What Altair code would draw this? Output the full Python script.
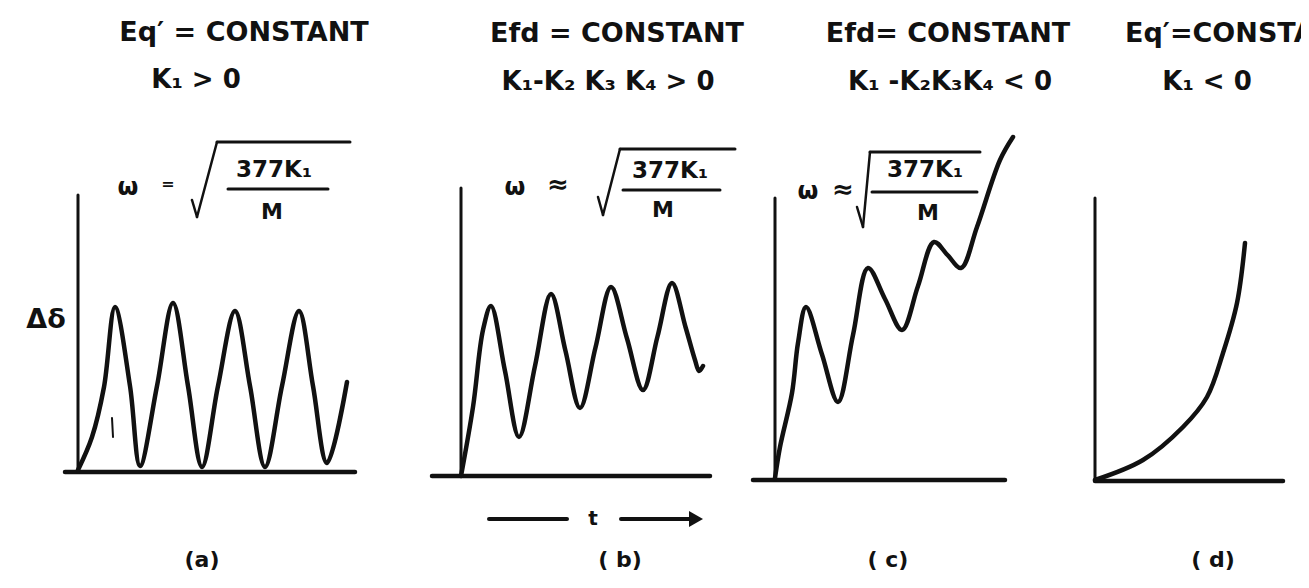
import altair as alt
import pandas as pd

INK = "#111111"
FONT = "DejaVu Sans"

# ---------------- data (t, delta-delta in arbitrary units) -------------
# (a) Eq' = constant, K1 > 0 : sustained oscillation
a_t = [0.0, 1.4, 2.6, 3.7, 5.2, 6.2, 7.9, 9.5, 11.0, 12.4, 14.0, 15.7, 17.2, 18.7, 20.4, 22.1, 23.5, 24.9, 26.9]
a_d = [0.2, 3.5, 8.5, 16.5, 8.6, 0.6, 8.6, 16.9, 8.6, 0.5, 8.6, 16.1, 8.6, 0.5, 8.6, 16.1, 8.6, 0.9, 9.0]
# (b) Efd = constant, K1-K2K3K4 > 0 : damped oscillation about a rising level
b_t = [0.0, 1.2, 2.2, 3.0, 4.4, 5.8, 7.4, 9.0, 10.45, 11.9, 13.45, 15.0, 16.6, 18.2, 19.65, 21.1, 22.45, 23.4, 23.8, 24.2]
b_d = [0.0, 6.9, 14.6, 17.0, 10.5, 3.9, 11.0, 18.2, 12.5, 6.8, 12.85, 18.9, 13.75, 8.6, 13.95, 19.3, 14.9, 11.6, 10.5, 11.0]
# (c) Efd = constant, K1-K2K3K4 < 0 : monotonic instability with oscillation
c_t = [0.0, 0.5, 1.7, 2.3, 3.1, 4.7, 6.3, 7.8, 9.3, 11.0, 12.7, 14.3, 15.9, 17.25, 18.6, 20.2, 22.5, 23.8]
c_d = [0.2, 3.3, 8.7, 13.7, 17.3, 12.55, 7.8, 14.5, 21.2, 18.1, 15.0, 19.4, 23.8, 22.5, 21.2, 25.3, 32.0, 34.3]
# (d) Eq' = constant, K1 < 0 : aperiodic instability
d_t = [0.0, 4.8, 8.8, 11.2, 12.8, 14.2, 15.0]
d_d = [0.1, 2.1, 5.4, 8.4, 12.8, 17.8, 23.8]

series_t = [a_t, b_t, c_t, d_t]
series_d = [a_d, b_d, c_d, d_d]

axis_top = [27.7, 28.8, 28.2, 28.3]      # height of the drawn vertical axis
base_from = [-1.3, -2.9, -2.2, 0.0]      # extent of the drawn time axis
base_to = [27.7, 24.9, 23.0, 18.8]

titles_1 = ["Eq′ = CONSTANT", "Efd = CONSTANT", "Efd= CONSTANT", "Eq′=CONSTANT"]
titles_2 = ["K₁ > 0", "K₁-K₂ K₃ K₄ > 0", "K₁ -K₂K₃K₄ < 0", "K₁ < 0"]
panel_labels = ["(a)", "( b)", "( c)", "( d)"]
omega_rel = ["=", "≈", "≈"]
numerator = "377K₁"
denominator = "M"
y_label = "Δδ"
t_label = "t"

# ---------------- layout (page pixels) ----------------
TOP = 8
H = 572
lefts = [8, 440, 750, 1060]
widths = [432, 310, 310, 241]
origins = [(78, 472), (461, 476), (775, 480), (1095, 481)]
UNIT = 10.0  # px per data unit

ONE = alt.Data(values=[{"k": 0}])


def seg(p, x1, y1, x2, y2, w=3.0):
    L = lefts[p]
    return alt.Chart(ONE).mark_rule(color=INK, strokeWidth=w, strokeCap="round").encode(
        x=alt.value(x1 - L), y=alt.value(y1 - TOP), x2=alt.value(x2 - L), y2=alt.value(y2 - TOP))


def txt(p, s, x, y, size, align="center", clip=False, weight="bold"):
    L = lefts[p]
    kw = dict(text=s, font=FONT, fontSize=size, fontWeight=weight, color=INK,
              align=align, baseline="middle")
    if clip:
        kw["clip"] = True
    return alt.Chart(ONE).mark_text(**kw).encode(x=alt.value(x - L), y=alt.value(y - TOP))


def panel(p):
    L, W = lefts[p], widths[p]
    ox, oy = origins[p]
    xs = alt.Scale(domain=[(L - ox) / UNIT, (L + W - ox) / UNIT], nice=False, zero=False)
    ys = alt.Scale(domain=[(oy - (TOP + H)) / UNIT, (oy - TOP) / UNIT], nice=False, zero=False)

    df = pd.DataFrame({"t": series_t[p], "d": series_d[p]})
    curve = alt.Chart(df).mark_line(color=INK, strokeWidth=4.5, interpolate="catmull-rom",
                                    strokeCap="round", strokeJoin="round").encode(
        x=alt.X("t:Q", scale=xs, axis=None), y=alt.Y("d:Q", scale=ys, axis=None), order="t:Q")

    axes_df = pd.DataFrame({"x1": [0.0, base_from[p]], "x2": [0.0, base_to[p]],
                            "y1": [0.0, 0.0], "y2": [axis_top[p], 0.0]})
    vaxis = alt.Chart(axes_df.iloc[[0]]).mark_rule(color=INK, strokeWidth=3, strokeCap="round").encode(
        x=alt.X("x1:Q", scale=xs, axis=None), x2="x2:Q",
        y=alt.Y("y1:Q", scale=ys, axis=None), y2="y2:Q")
    haxis = alt.Chart(axes_df.iloc[[1]]).mark_rule(color=INK, strokeWidth=4.5, strokeCap="round").encode(
        x=alt.X("x1:Q", scale=xs, axis=None), x2="x2:Q",
        y=alt.Y("y1:Q", scale=ys, axis=None), y2="y2:Q")

    layers = [haxis, vaxis, curve]

    # headings
    if p == 0:
        layers += [txt(p, titles_1[p], 244, 33, 27), txt(p, titles_2[p], 196, 80, 26)]
    elif p == 1:
        layers += [txt(p, titles_1[p], 617, 34, 27), txt(p, titles_2[p], 608, 82, 26)]
    elif p == 2:
        layers += [txt(p, titles_1[p], 948, 34, 27), txt(p, titles_2[p], 950, 82, 26)]
    else:
        layers += [txt(p, titles_1[p], 1125, 34, 27, align="left", clip=True),
                   txt(p, titles_2[p], 1207, 82, 26)]

    # frequency formulas
    if p == 0:
        layers += [txt(p, "ω", 128, 188, 24), txt(p, omega_rel[0], 168, 184, 16),
                   seg(p, 192, 200, 197, 217, 2.5), seg(p, 197, 217, 217, 142, 2.5),
                   seg(p, 217, 142, 350, 142, 3),
                   txt(p, numerator, 274, 170, 23), seg(p, 228, 189, 328, 189, 3),
                   txt(p, denominator, 272, 212, 22),
                   txt(p, y_label, 46, 320, 27),
                   seg(p, 112, 418, 113, 437, 2)]
    elif p == 1:
        layers += [txt(p, "ω", 515, 188, 24), txt(p, omega_rel[1], 558, 185, 26),
                   seg(p, 598, 197, 603, 215, 2.5), seg(p, 603, 215, 620, 149, 2.5),
                   seg(p, 620, 149, 735, 149, 3),
                   txt(p, numerator, 670, 171, 23), seg(p, 623, 190, 720, 190, 3),
                   txt(p, denominator, 663, 210, 22),
                   # time arrow
                   seg(p, 489, 519, 567, 519, 4), txt(p, t_label, 593, 519, 20),
                   seg(p, 621, 519, 690, 519, 4)]
        layers.append(alt.Chart(ONE).mark_point(shape="triangle-right", filled=True, color=INK,
                                                size=260, opacity=1).encode(
            x=alt.value(696 - L), y=alt.value(519 - TOP)))
    elif p == 2:
        layers += [txt(p, "ω", 808, 192, 24), txt(p, omega_rel[2], 843, 190, 26),
                   seg(p, 857, 207, 863, 227, 2.5), seg(p, 863, 227, 870, 152, 2.5),
                   seg(p, 870, 152, 980, 152, 3),
                   txt(p, numerator, 925, 170, 23), seg(p, 872, 192, 977, 192, 3),
                   txt(p, denominator, 928, 213, 22)]

    label_x = [202, 620, 888, 1213][p]
    layers.append(txt(p, panel_labels[p], label_x, 560, 22))

    return alt.layer(*layers).properties(width=W, height=H)


chart = alt.hconcat(*[panel(i) for i in range(4)], spacing=0, bounds="flush").properties(
    padding=0, background="white"
).configure_view(stroke=None)

chart.save("out.html", embed_options={"renderer": "svg", "actions": False})
